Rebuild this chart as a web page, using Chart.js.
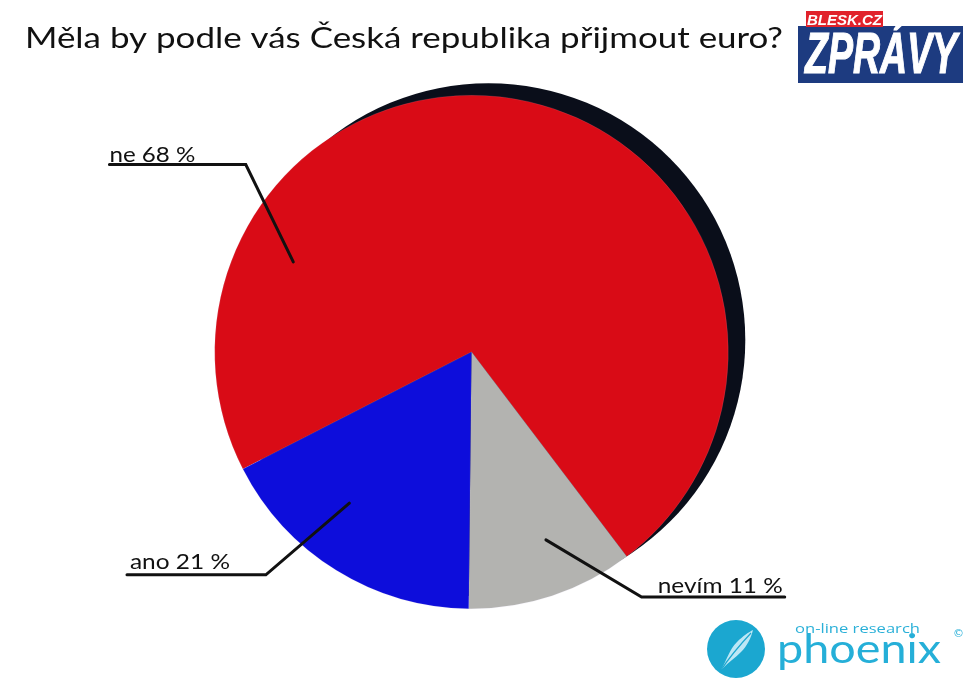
<!DOCTYPE html>
<html><head><meta charset="utf-8">
<script src="https://cdn.jsdelivr.net/npm/chart.js@4.4.0/dist/chart.umd.min.js"></script>
<style>
html,body{margin:0;padding:0;background:#fff;}
#wrap{position:relative;width:978px;height:679px;overflow:hidden;background:#fff;}
#c{position:absolute;left:0;top:0;}
.blue{position:absolute;left:798px;top:26px;width:165px;height:57px;background:#1d3b80;}
.red{position:absolute;left:806px;top:11px;width:77px;height:16px;background:#e1222b;color:#fff;font:italic bold 15px "Liberation Sans Narrow","Liberation Sans",sans-serif;line-height:17px;text-align:center;}
.zpravy{position:absolute;left:805px;top:20px;color:#fff;font:italic bold 58px "Liberation Sans Narrow","Liberation Sans",sans-serif;line-height:66px;white-space:nowrap;transform-origin:0 0;-webkit-text-stroke:1.2px #fff;}
.circle{position:absolute;left:707px;top:620px;width:58px;height:58px;border-radius:50%;background:#1ba7d0;}
.research{position:absolute;left:795px;top:620px;color:#2ab0d8;font:13px "Open Sans",sans-serif;line-height:16px;white-space:nowrap;transform-origin:0 0;}
.phoenix{position:absolute;left:777px;top:626px;color:#25afd8;font:400 40px "Lato",sans-serif;line-height:44px;white-space:nowrap;transform-origin:0 0;}
.copy{position:absolute;left:953px;top:627px;color:#2ab0d8;font:11px "DejaVu Sans",sans-serif;}
</style></head><body>
<div id="wrap">
<canvas id="c" width="978" height="679"></canvas>
<div class="blue"></div>
<div class="red">BLESK.CZ</div>
<div class="zpravy" id="zpravy">ZPRÁVY</div>
<div class="circle">
<svg width="58" height="58" viewBox="0 0 58 58">
<path d="M14 50 C20 40 22 30 30 22 C36 16 42 12 46 10 C44 18 40 26 34 32 C28 38 22 42 16 48 Z" fill="#cfeef8" opacity="0.9"/>
<path d="M14 50 C22 38 30 28 44 13" stroke="#1ba7d0" stroke-width="1.2" fill="none"/>
</svg>
</div>
<div class="research" id="research">on-line research</div>
<div class="phoenix" id="phoenix">phoenix</div>
<div class="copy">©</div>
</div>
<script>
// ---- data ----
const titleText = 'Měla by podle vás Česká republika přijmout euro?';
const categories = ['ne', 'nevím', 'ano'];
const labelPercents = [68, 11, 21];          // numbers printed on the labels
const sliceShares = [72.2, 10.5, 17.3];      // slice sizes as drawn in the picture
const sliceColors = ['#d90b16', '#b3b3b0', '#0d0ddb'];
const startAngle = 242.9;                    // degrees, where the first slice begins

// ---- styles / layout ----
const SHADOW = {color: '#0a0e1a', dx: 17, dy: -12};
const LINE = {color: '#111', width: 3};
const TITLE_FONT = '28px "Lato", sans-serif';
const LABEL_FONT = '21px "Lato", sans-serif';
// leader geometry in units of the pie radius, relative to the pie centre
const leaderLayout = [
  {anchor: [-0.694, -0.351], elbow: [-0.879, -0.730], end: [-1.410, -0.730], align: 'left',  dx: 0,  dy: -2.6, width: 86},
  {anchor: [0.2899, 0.7315], elbow: [0.6623, 0.9545], end: [1.2198, 0.9545], align: 'right', dx: -2, dy: -4,   width: 125},
  {anchor: [-0.4755, 0.5887], elbow: [-0.8008, 0.8677], end: [-1.3416, 0.8677], align: 'left', dx: 3, dy: -6,  width: 100}
];

function fitText(ctx, text, x, y, width, font, align) {
  ctx.save();
  ctx.font = font;
  ctx.textBaseline = 'alphabetic';
  ctx.textAlign = 'left';
  const w = ctx.measureText(text).width;
  const s = width / w;
  ctx.translate(align === 'right' ? x - width : x, y);
  ctx.scale(s, 1);
  ctx.fillText(text, 0, 0);
  ctx.restore();
}

const shadowPlugin = {
  id: 'shadow',
  beforeDatasetsDraw(chart) {
    const arc = chart.getDatasetMeta(0).data[0];
    const ctx = chart.ctx;
    ctx.save();
    ctx.fillStyle = SHADOW.color;
    ctx.beginPath();
    ctx.arc(arc.x + SHADOW.dx, arc.y + SHADOW.dy, arc.outerRadius, 0, Math.PI * 2);
    ctx.fill();
    ctx.restore();
  }
};

const labelPlugin = {
  id: 'leaders',
  afterDraw(chart) {
    const ctx = chart.ctx;
    const arc = chart.getDatasetMeta(0).data[0];
    const cx = arc.x, cy = arc.y, r = arc.outerRadius;
    const P = p => [cx + p[0] * r, cy + p[1] * r];
    ctx.fillStyle = '#111';
    fitText(ctx, titleText, 25, 48, 758, TITLE_FONT, 'left');
    categories.forEach((cat, i) => {
      const L = leaderLayout[i];
      const a = P(L.anchor), e = P(L.elbow), n = P(L.end);
      ctx.save();
      ctx.strokeStyle = LINE.color;
      ctx.lineWidth = LINE.width;
      ctx.lineJoin = 'miter';
      ctx.lineCap = 'round';
      ctx.beginPath();
      ctx.moveTo(a[0], a[1]);
      ctx.lineTo(e[0], e[1]);
      ctx.lineTo(n[0], n[1]);
      ctx.stroke();
      ctx.restore();
      ctx.fillStyle = '#111';
      const text = cat + ' ' + labelPercents[i] + ' %';
      const tx = (L.align === 'right' ? Math.max(e[0], n[0]) : Math.min(e[0], n[0])) + L.dx;
      fitText(ctx, text, tx, n[1] + L.dy, L.width, LABEL_FONT, L.align);
    });
  }
};

new Chart(document.getElementById('c'), {
  type: 'pie',
  data: {
    labels: categories,
    datasets: [{
      data: sliceShares,
      backgroundColor: sliceColors,
      borderColor: 'rgba(200,190,220,0.35)',
      borderWidth: 0.4
    }]
  },
  options: {
    responsive: false,
    animation: false,
    rotation: startAngle,
    layout: {padding: {left: 214.5, right: 249.5, top: 95, bottom: 70}},
    plugins: {legend: {display: false}, tooltip: {enabled: false}, title: {display: false}}
  },
  plugins: [shadowPlugin, labelPlugin]
});

function fitEl(id, width) {
  const el = document.getElementById(id);
  const w = el.getBoundingClientRect().width;
  el.style.transform = 'scaleX(' + (width / w) + ')';
}
fitEl('zpravy', 152);
fitEl('research', 125);
fitEl('phoenix', 164);
</script>
</body></html>
